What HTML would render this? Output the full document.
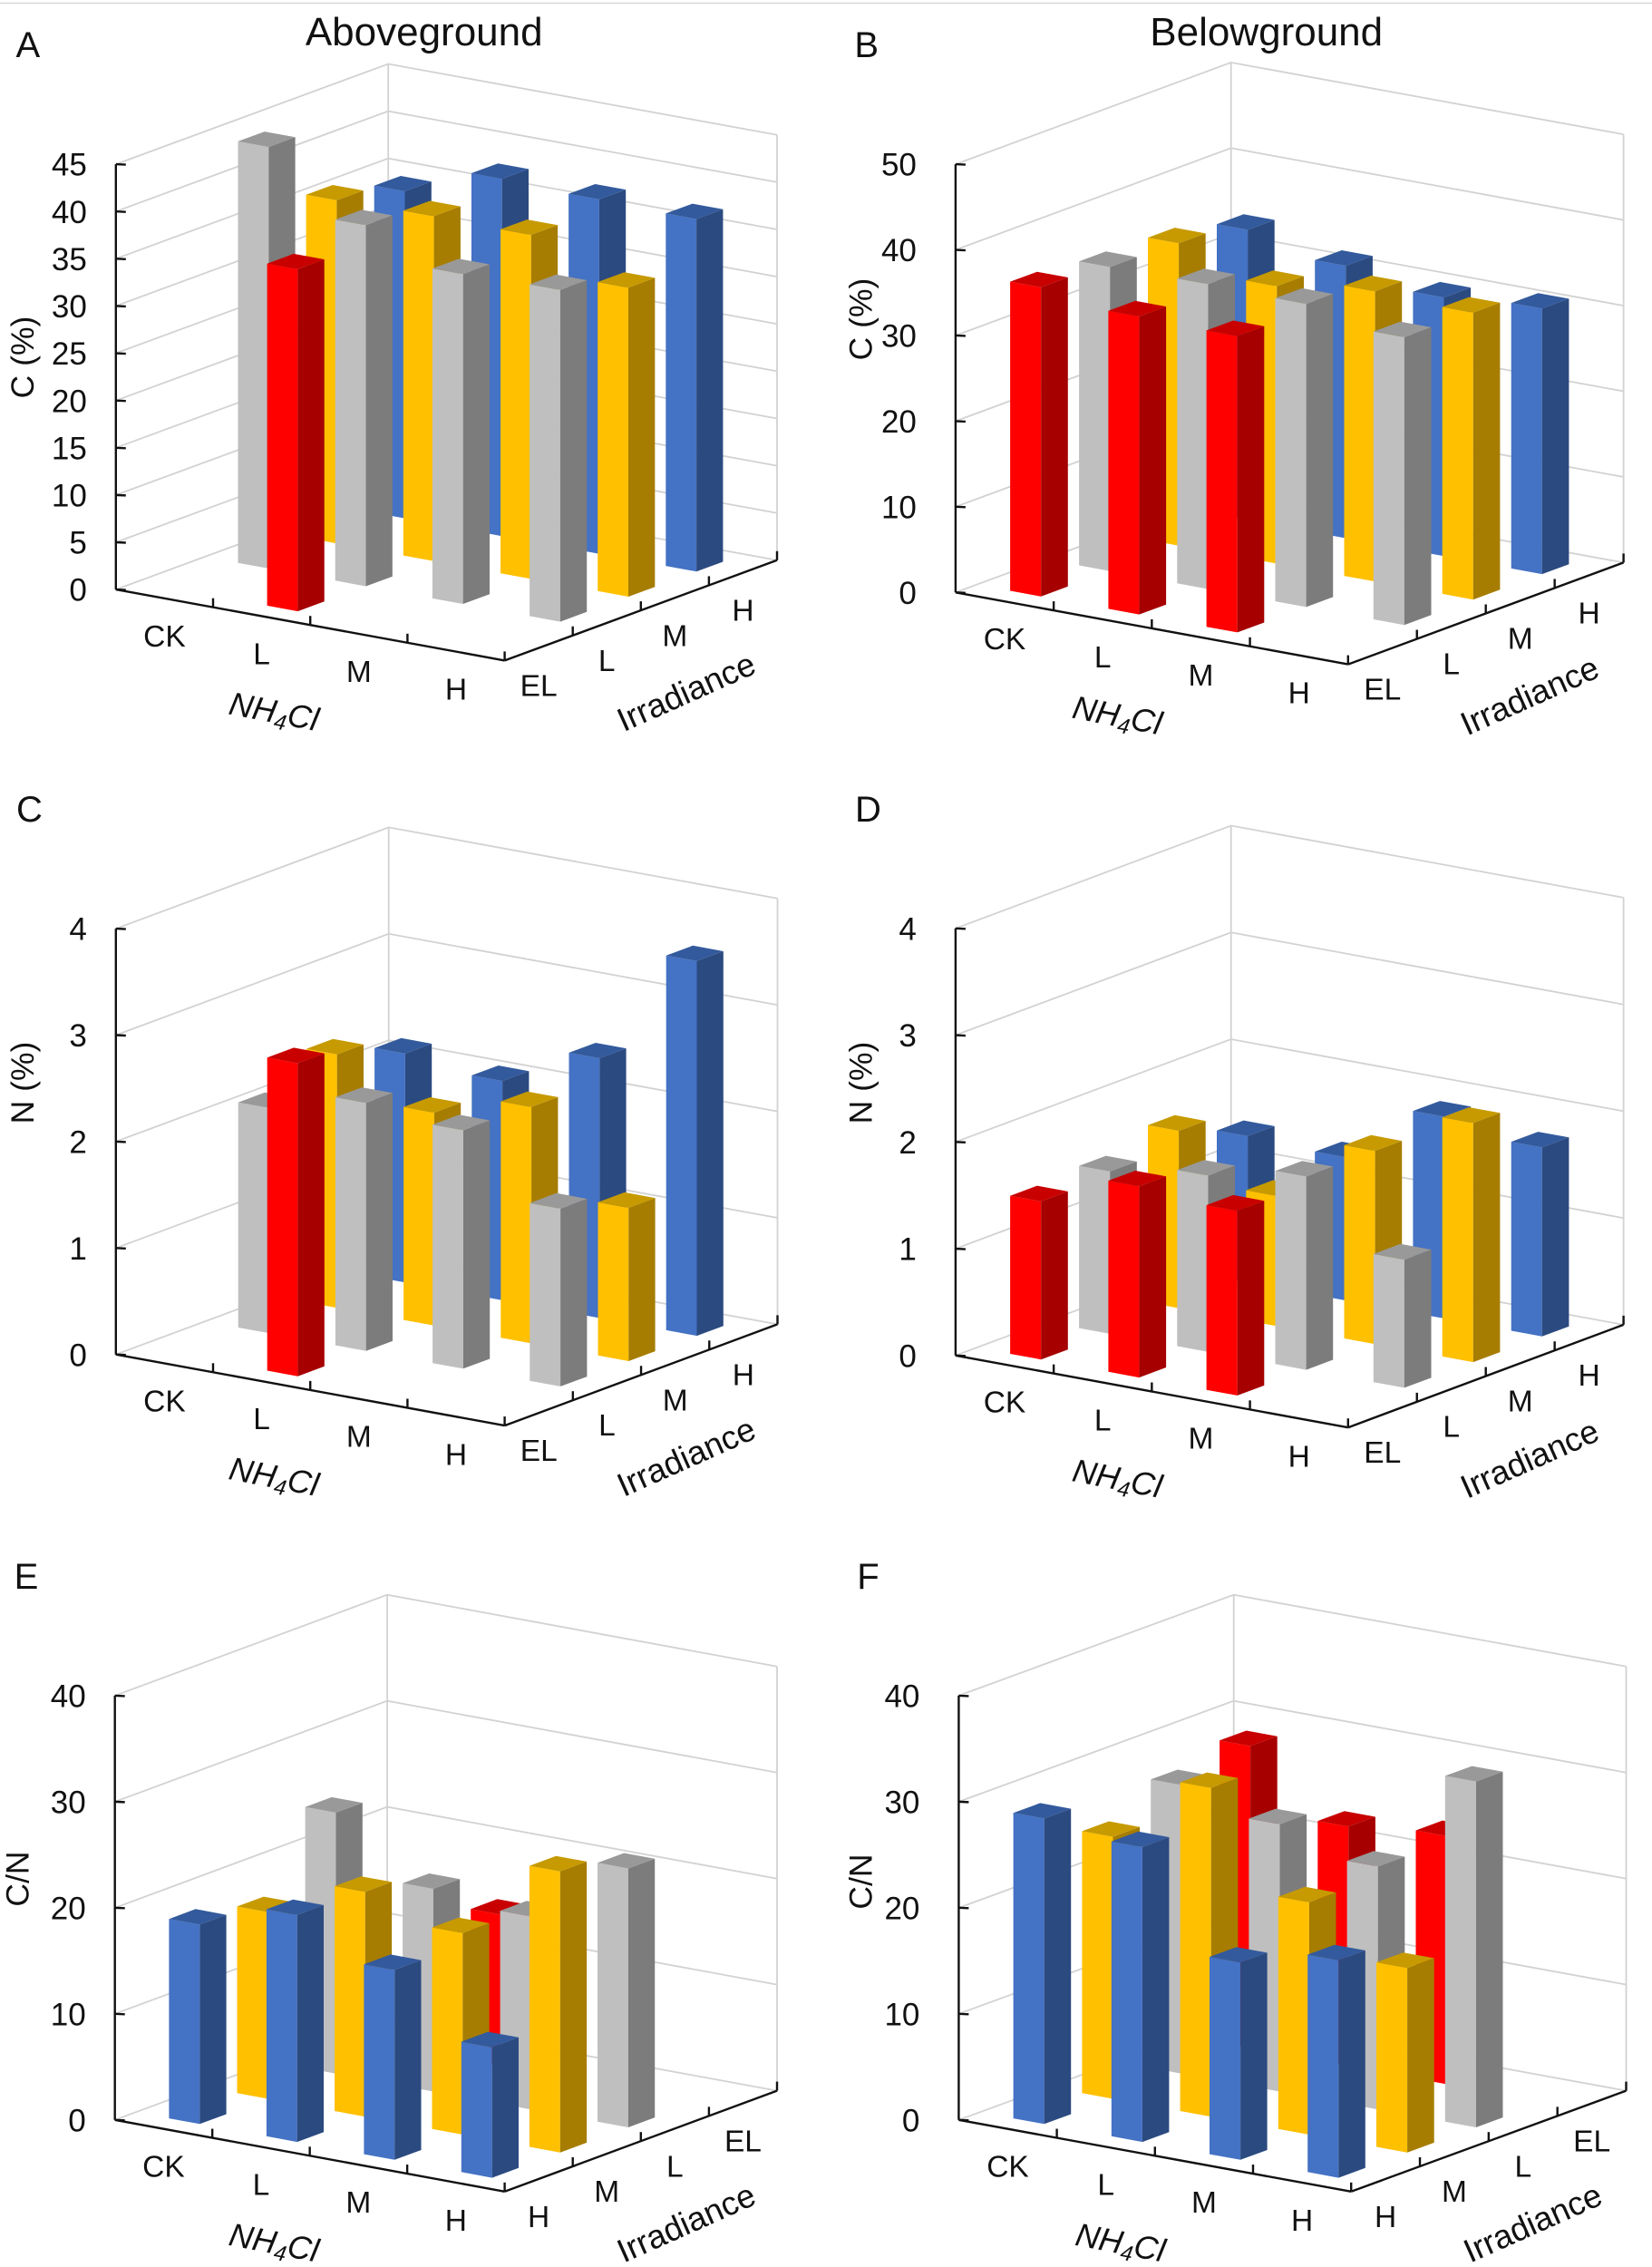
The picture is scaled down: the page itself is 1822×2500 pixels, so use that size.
<!DOCTYPE html>
<html lang="en">
<head>
<meta charset="utf-8">
<title>Aboveground and belowground C, N and C/N by NH4Cl and irradiance</title>
<style>
  html, body { margin: 0; padding: 0; background: #fff; }
  #figure { display: block; width: 1822px; height: 2500px; }
  text { font-family: "Liberation Sans", Arial, sans-serif; fill: #111; }
</style>
</head>
<body>
<svg id="figure" xmlns="http://www.w3.org/2000/svg" width="1822" height="2500" viewBox="0 0 1822 2500">
  <rect x="0" y="0" width="1822" height="2500" fill="#ffffff"/>
  <line x1="0" y1="3.5" x2="1822" y2="3.5" stroke="#d8d8d8" stroke-width="1.5"/>
  <text x="467.7" y="50" font-size="44" text-anchor="middle">Aboveground</text>
  <text x="1396.7" y="50" font-size="44" text-anchor="middle">Belowground</text>
  <text x="30.8" y="63" font-size="40" text-anchor="middle">A</text>
  <text x="955.7" y="63" font-size="40" text-anchor="middle">B</text>
  <text x="32.5" y="906" font-size="40" text-anchor="middle">C</text>
  <text x="957.5" y="906" font-size="40" text-anchor="middle">D</text>
  <text x="29" y="1752" font-size="40" text-anchor="middle">E</text>
  <text x="957.5" y="1752" font-size="40" text-anchor="middle">F</text>
</svg>

<script>
// ---------- Categories and tick labels ----------
const nh4clCategories = ['CK', 'L', 'M', 'H'];
const irradianceFrontEL = ['EL', 'L', 'M', 'H'];
const irradianceFrontH = ['H', 'M', 'L', 'EL'];
const ticksCarbonAbove = [0, 5, 10, 15, 20, 25, 30, 35, 40, 45];
const ticksCarbonBelow = [0, 10, 20, 30, 40, 50];
const ticksNitrogen = [0, 1, 2, 3, 4];
const ticksRatio = [0, 10, 20, 30, 40];

// ---------- Values by NH4Cl level (CK, L, M, H); null means no bar ----------
// Panel A: aboveground C (%)
const aRed = [null, 36.2, null, null];
const aGrey = [44.6, 38.2, 34.9, 35.1];
const aYellow = [36.3, 36.5, 36.4, 32.7];
const aBlue = [34.6, 37.8, 37.5, 37.3];
// Panel B: belowground C (%)
const bRed = [36.1, 34.8, 34.6, null];
const bGrey = [35.5, 35.6, 35.4, 33.6];
const bYellow = [35.3, 32.4, 33.9, 33.5];
const bBlue = [33.9, 31.8, 30.2, 31.0];
// Panel C: aboveground N (%)
const cRed = [null, 2.94, null, null];
const cGrey = [2.115, 2.33, 2.24, 1.67];
const cYellow = [2.38, 2.0, 2.22, 1.44];
const cBlue = [2.15, 2.06, 2.44, 3.52];
// Panel D: belowground N (%)
const dRed = [1.48, 1.79, 1.73, null];
const dGrey = [1.52, 1.65, 1.81, 1.20];
const dYellow = [1.66, 1.22, 1.81, 2.24];
const dBlue = [1.37, 1.34, 1.89, 1.77];
// Panel E: aboveground C/N
const eBlue = [18.8, 21.4, 17.9, 12.3];
const eYellow = [17.6, 21.2, 19.0, 26.5];
const eGrey = [24.6, 19.1, 18.2, 24.4];
const eRed = [null, 14.3, null, null];
// Panel F: belowground C/N
const fBlue = [28.8, 27.8, 18.6, 20.5];
const fYellow = [24.7, 31.0, 21.9, 17.4];
const fGrey = [27.2, 25.2, 22.9, 32.6];
const fRed = [28.5, 22.6, 23.4, null];

// ---------- Colours ----------
const palette = {
  red:    { front: '#ff0000', side: '#a60000', top: '#c80000' },
  grey:   { front: '#bfbfbf', side: '#7c7c7c', top: '#999999' },
  yellow: { front: '#ffc000', side: '#a67d00', top: '#c69a00' },
  blue:   { front: '#4472c4', side: '#2b4a80', top: '#335a9c' }
};

// ---------- Panel layout ----------
const panels = [
  { id: 'a', yTitle: 'C (%)', ticks: ticksCarbonAbove, irr: irradianceFrontEL,
    rows: [['red', aRed], ['grey', aGrey], ['yellow', aYellow], ['blue', aBlue]],
    ox: 127.8, oy: 650.1, fx: 556.6, fy: 728.4, rx: 857.0, ry: 617.8, h: 469, gap: 32, tx: 25, ty: 394 },
  { id: 'b', yTitle: 'C (%)', ticks: ticksCarbonBelow, irr: irradianceFrontEL,
    rows: [['red', bRed], ['grey', bGrey], ['yellow', bYellow], ['blue', bBlue]],
    ox: 1053.9, oy: 653.3, fx: 1486.8, fy: 732.6, rx: 1790.6, ry: 620.4, h: 472.2, gap: 43, tx: 949.5, ty: 352 },
  { id: 'c', yTitle: 'N (%)', ticks: ticksNitrogen, irr: irradianceFrontEL,
    rows: [['red', cRed], ['grey', cGrey], ['yellow', cYellow], ['blue', cBlue]],
    ox: 127.8, oy: 1493.7, fx: 556.6, fy: 1572.1, rx: 857.5, ry: 1460.4, h: 469.6, gap: 32, tx: 25, ty: 1194 },
  { id: 'd', yTitle: 'N (%)', ticks: ticksNitrogen, irr: irradianceFrontEL,
    rows: [['red', dRed], ['grey', dGrey], ['yellow', dYellow], ['blue', dBlue]],
    ox: 1053.9, oy: 1494.8, fx: 1486.8, fy: 1574.2, rx: 1790.6, ry: 1460.9, h: 471, gap: 43, tx: 949.5, ty: 1194 },
  { id: 'e', yTitle: 'C/N', ticks: ticksRatio, irr: irradianceFrontH,
    rows: [['blue', eBlue], ['yellow', eYellow], ['grey', eGrey], ['red', eRed]],
    ox: 126.7, oy: 2337.8, fx: 556.6, fy: 2416.8, rx: 857.0, ry: 2305.6, h: 467.9, gap: 32, tx: 19.3, ty: 2072 },
  { id: 'f', yTitle: 'C/N', ticks: ticksRatio, irr: irradianceFrontH,
    rows: [['blue', fBlue], ['yellow', fYellow], ['grey', fGrey], ['red', fRed]],
    ox: 1057.4, oy: 2337.8, fx: 1490.2, fy: 2416.8, rx: 1793.5, ry: 2305.6, h: 467.9, gap: 43, tx: 949.5, ty: 2075 }
];

const BAR_U = 0.315;   // bar width along the NH4Cl axis, as a share of one cell
const BAR_W = 0.39;    // bar depth along the irradiance axis, as a share of one cell
const LABEL_SIZE = 35;
const CATEGORY_SIZE = 33.5;
const SVGNS = 'http://www.w3.org/2000/svg';
const root = document.getElementById('figure');

function svgEl(tag, attrs, parent) {
  const el = document.createElementNS(SVGNS, tag);
  for (const k in attrs) el.setAttribute(k, attrs[k]);
  if (parent) parent.appendChild(el);
  return el;
}

function drawPanel(p) {
  const maxV = p.ticks[p.ticks.length - 1];
  const ux = p.fx - p.ox, uy = p.fy - p.oy;   // NH4Cl axis vector
  const wx = p.rx - p.fx, wy = p.ry - p.fy;   // irradiance axis vector
  const bx = p.ox + wx, by = p.oy + wy;       // back corner of the floor

  // axis functions: u and w in cell units, v in data units
  const X = (u, w) => p.ox + ux * u / 4 + wx * w / 4;
  const Y = (u, w, v) => p.oy + uy * u / 4 + wy * w / 4 - (v / maxV) * p.h;
  const pt = (u, w, v) => X(u, w).toFixed(1) + ',' + Y(u, w, v).toFixed(1);

  const g = svgEl('g', {}, root);
  
  

  // ----- walls and grid -----
  const grid = svgEl('g', { stroke: '#d2d2d2', 'stroke-width': 1.8, fill: 'none' }, g);
  
  
  p.ticks.forEach(function (t) {
    const line = svgEl('polyline', { points: pt(0, 0, t) + ' ' + pt(0, 4, t) + ' ' + pt(4, 4, t) }, grid);
    
    
  });
  const backEdge = svgEl('line', { x1: bx, y1: by, x2: bx, y2: by - p.h }, grid);
  
  
  const rightEdge = svgEl('line', { x1: p.rx, y1: p.ry, x2: p.rx, y2: p.ry - p.h }, grid);
  
  

  // ----- bars, painted back to front -----
  for (let j = 3; j >= 0; j--) {
    const colour = p.rows[j][0];
    const values = p.rows[j][1];
    const shades = palette[colour];
    values.forEach(function (v, i) {
      if (v === null) return;
      const u0 = i + 0.5 - BAR_U / 2, u1 = i + 0.5 + BAR_U / 2;
      const w0 = j + 0.5 - BAR_W / 2, w1 = j + 0.5 + BAR_W / 2;
      const bar = svgEl('g', {}, g);
      
      
      const front = svgEl('polygon', { fill: shades.front,
        points: [pt(u0, w0, 0), pt(u1, w0, 0), pt(u1, w0, v), pt(u0, w0, v)].join(' ') }, bar);
      
      
      const side = svgEl('polygon', { fill: shades.side,
        points: [pt(u1, w0, 0), pt(u1, w1, 0), pt(u1, w1, v), pt(u1, w0, v)].join(' ') }, bar);
      
      
      const top = svgEl('polygon', { fill: shades.top,
        points: [pt(u0, w0, v), pt(u1, w0, v), pt(u1, w1, v), pt(u0, w1, v)].join(' ') }, bar);
      
      
    });
  }

  // ----- black axes -----
  const axes = svgEl('g', { stroke: '#111', 'stroke-width': 2.4, fill: 'none' }, g);
  
  
  const yAxis = svgEl('line', { x1: p.ox, y1: p.oy, x2: p.ox, y2: p.oy - p.h }, axes);
  
  
  const nh4Axis = svgEl('line', { x1: p.ox, y1: p.oy, x2: p.fx, y2: p.fy }, axes);
  
  
  const irrAxis = svgEl('line', { x1: p.fx, y1: p.fy, x2: p.rx, y2: p.ry }, axes);
  
  

  // y ticks and labels
  p.ticks.forEach(function (t) {
    const y = p.oy - (t / maxV) * p.h;
    const tick = svgEl('line', { x1: p.ox, y1: y, x2: p.ox + 11, y2: y + 0.5 }, axes);
    
    
    const label = svgEl('text', { x: p.ox - p.gap, y: y + LABEL_SIZE * 0.36, 'font-size': LABEL_SIZE, 'text-anchor': 'end' }, g);
    label.textContent = String(t);
    
    
  });

  // NH4Cl and irradiance ticks
  for (let k = 1; k <= 4; k++) {
    const nx = p.ox + ux * k / 4, ny = p.oy + uy * k / 4;
    const t1 = svgEl('line', { x1: nx, y1: ny, x2: nx, y2: ny - 10 }, axes);
    
    
    const ix = p.fx + wx * k / 4, iy = p.fy + wy * k / 4;
    const t2 = svgEl('line', { x1: ix, y1: iy, x2: ix, y2: iy - 10 }, axes);
    
    
  }

  // category labels
  nh4clCategories.forEach(function (c, i) {
    const lx = p.ox + ux * (i + 0.5) / 4;
    const ly = p.oy + uy * (i + 0.5) / 4 + 41;
    const label = svgEl('text', { x: lx, y: ly + 12, 'font-size': CATEGORY_SIZE, 'text-anchor': 'middle' }, g);
    label.textContent = c;
    
    
  });
  p.irr.forEach(function (c, j) {
    const lx = p.fx + wx * (j + 0.5) / 4;
    const ly = p.fy + wy * (j + 0.5) / 4 + 41;
    const label = svgEl('text', { x: lx, y: ly + 12, 'font-size': CATEGORY_SIZE, 'text-anchor': 'middle' }, g);
    label.textContent = c;
    
    
  });

  // axis titles
  const yT = svgEl('text', { x: 0, y: 0, 'font-size': 35.5, 'text-anchor': 'middle',
    transform: 'translate(' + (p.tx + 12) + ',' + p.ty + ') rotate(-90)' }, g);
  yT.textContent = p.yTitle;
  
  

  const nT = svgEl('text', { x: 0, y: 0, 'font-size': 36, 'font-style': 'italic', 'text-anchor': 'middle',
    transform: 'translate(' + (p.fx - 254.5) + ',' + (p.fy + 56.5) + ') rotate(11) translate(0,12)' }, g);
  
  
  const s1 = svgEl('tspan', {}, nT);
  s1.textContent = 'NH';
  const s2 = svgEl('tspan', { 'font-size': 24, dy: 6 }, nT);
  s2.textContent = '4';
  const s3 = svgEl('tspan', { dy: -6 }, nT);
  s3.textContent = 'Cl';

  const iT = svgEl('text', { x: 0, y: 0, 'font-size': 36.5, 'text-anchor': 'middle',
    transform: 'translate(' + (p.fx + 200.4) + ',' + (p.fy + 35) + ') rotate(-24) translate(0,12)' }, g);
  iT.textContent = 'Irradiance';
  
  
}

panels.forEach(drawPanel);
</script>
</body>
</html>
